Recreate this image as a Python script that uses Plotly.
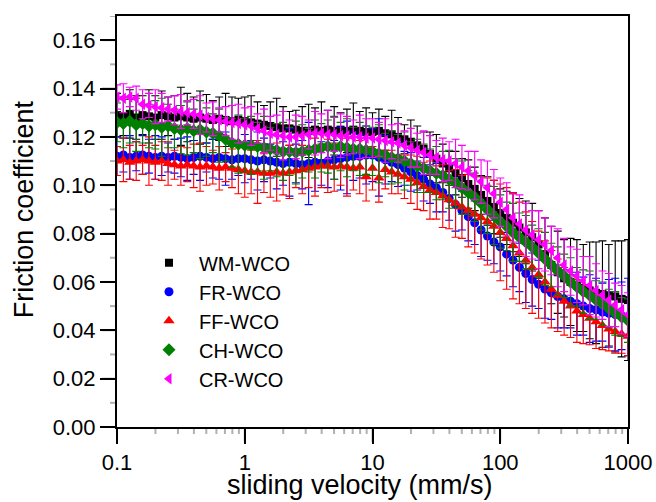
import plotly.graph_objects as go

velocity = [
    0.1, 0.1122, 0.1259, 0.1413, 0.1585, 0.1778, 0.1995, 0.2239, 0.2512, 0.2818,
    0.3162, 0.3548, 0.3981, 0.4467, 0.5012, 0.5623, 0.6310, 0.7079, 0.7943, 0.8913,
    1.0, 1.122, 1.259, 1.413, 1.585, 1.778, 1.995, 2.239, 2.512, 2.818,
    3.162, 3.548, 3.981, 4.467, 5.012, 5.623, 6.310, 7.079, 7.943, 8.913,
    10.0, 11.22, 12.59, 14.13, 15.85, 17.78, 19.95, 22.39, 25.12, 28.18,
    31.62, 35.48, 39.81, 44.67, 50.12, 56.23, 63.10, 70.79, 79.43, 89.13,
    100.0, 112.2, 125.9, 141.3, 158.5, 177.8, 199.5, 223.9, 251.2, 281.8,
    316.2, 354.8, 398.1, 446.7, 501.2, 562.3, 631.0, 707.9, 794.3, 891.3, 1000.0,
]

wm_wco = [
    .1290, .1285, .1295, .1280, .1290, .1285, .1280, .1290, .1285, .1280,
    .1285, .1280, .1275, .1280, .1275, .1270, .1275, .1270, .1265, .1270,
    .1265, .1260, .1255, .1250, .1245, .1240, .1235, .1235, .1230, .1225,
    .1225, .1230, .1225, .1230, .1225, .1230, .1225, .1230, .1225, .1220,
    .1220, .1225, .1215, .1210, .1200, .1190, .1180, .1165, .1150, .1130,
    .1110, .1090, .1070, .1050, .1030, .1005, .0985, .0960, .0935, .0910,
    .0885, .0865, .0845, .0825, .0805, .0785, .0755, .0715, .0670, .0640,
    .0615, .0600, .0585, .0575, .0565, .0555, .0550, .0545, .0540, .0530, .0525,
]
wm_err = [
    .009, .008, .010, .009, .008, .011, .009, .010, .008, .009,
    .012, .010, .009, .011, .010, .008, .009, .011, .010, .009,
    .010, .011, .009, .008, .010, .012, .009, .007, .008, .010,
    .011, .009, .012, .008, .010, .007, .009, .011, .008, .010,
    .008, .009, .007, .010, .008, .006, .009, .008, .007, .009,
    .010, .008, .007, .009, .008, .010, .009, .008, .010, .011,
    .010, .011, .012, .012, .013, .014, .014, .015, .016, .017,
    .016, .018, .019, .018, .020, .021, .022, .021, .023, .024, .025,
]

fr_wco = [
    .1120, .1125, .1115, .1120, .1125, .1120, .1115, .1120, .1115, .1120,
    .1115, .1110, .1115, .1120, .1115, .1110, .1115, .1110, .1105, .1110,
    .1110, .1105, .1100, .1105, .1100, .1095, .1090, .1095, .1090, .1085,
    .1090, .1095, .1090, .1100, .1105, .1110, .1115, .1120, .1120, .1125,
    .1125, .1115, .1105, .1095, .1085, .1070, .1055, .1040, .1025, .1005,
    .0990, .0970, .0945, .0920, .0895, .0870, .0845, .0815, .0790, .0765,
    .0745, .0715, .0690, .0660, .0635, .0610, .0590, .0570, .0555, .0540,
    .0530, .0520, .0510, .0500, .0490, .0485, .0475, .0470, .0465, .0460, .0455,
]
fr_err = [
    .008, .007, .009, .006, .008, .007, .009, .008, .006, .007,
    .008, .009, .007, .010, .006, .008, .009, .011, .008, .007,
    .010, .008, .012, .009, .007, .011, .009, .014, .008, .010,
    .017, .012, .009, .011, .008, .013, .015, .010, .009, .012,
    .011, .016, .010, .008, .009, .007, .008, .006, .009, .008,
    .010, .008, .009, .011, .008, .010, .009, .011, .010, .009,
    .010, .009, .011, .010, .012, .011, .010, .012, .011, .013,
    .012, .011, .013, .012, .014, .013, .012, .014, .015, .014, .016,
]

ff_wco = [
    .1100, .1105, .1095, .1100, .1105, .1100, .1095, .1100, .1090, .1085,
    .1080, .1085, .1080, .1075, .1080, .1075, .1070, .1075, .1070, .1065,
    .1060, .1055, .1055, .1050, .1050, .1055, .1050, .1055, .1060, .1065,
    .1070, .1075, .1080, .1080, .1075, .1080, .1075, .1070, .1075, .1035,
    .1070, .1030, .1065, .1055, .1045, .1035, .1025, .1010, .0995, .0980,
    .0970, .0955, .0940, .0925, .0910, .0895, .0880, .0865, .0850, .0830,
    .0805, .0780, .0750, .0720, .0690, .0660, .0630, .0600, .0570, .0545,
    .0520, .0500, .0480, .0465, .0450, .0435, .0420, .0405, .0395, .0385, .0375,
]
ff_err = [
    .006, .009, .007, .008, .006, .010, .007, .008, .009, .006,
    .008, .007, .009, .010, .008, .007, .009, .006, .008, .010,
    .011, .009, .013, .008, .010, .012, .009, .011, .007, .010,
    .008, .012, .009, .011, .010, .008, .012, .009, .011, .010,
    .009, .010, .008, .009, .008, .009, .010, .011, .010, .012,
    .011, .013, .012, .014, .013, .015, .016, .017, .018, .019,
    .020, .021, .022, .021, .020, .019, .018, .017, .016, .015,
    .014, .013, .013, .012, .011, .011, .010, .009, .009, .008, .008,
]

ch_wco = [
    .1260, .1255, .1265, .1250, .1255, .1245, .1250, .1240, .1245, .1235,
    .1230, .1235, .1225, .1230, .1220, .1215, .1205, .1190, .1175, .1170,
    .1165, .1165, .1160, .1155, .1150, .1145, .1140, .1140, .1135, .1140,
    .1145, .1150, .1155, .1160, .1155, .1160, .1155, .1150, .1150, .1145,
    .1140, .1130, .1125, .1115, .1110, .1100, .1090, .1080, .1070, .1060,
    .1050, .1040, .1025, .1010, .0990, .0970, .0950, .0925, .0900, .0875,
    .0850, .0830, .0805, .0785, .0765, .0745, .0720, .0695, .0670, .0645,
    .0625, .0600, .0580, .0560, .0545, .0525, .0510, .0490, .0470, .0455, .0440,
]
ch_err = [
    .008, .010, .009, .011, .008, .009, .010, .012, .009, .008,
    .010, .011, .009, .012, .010, .008, .011, .009, .010, .012,
    .011, .012, .010, .013, .009, .011, .012, .010, .013, .011,
    .009, .012, .010, .011, .013, .010, .012, .009, .011, .010,
    .010, .012, .009, .011, .010, .012, .009, .011, .010, .009,
    .011, .010, .012, .010, .011, .009, .010, .011, .010, .012,
    .011, .010, .012, .010, .011, .009, .010, .011, .009, .010,
    .009, .010, .008, .009, .010, .008, .009, .008, .009, .008, .009,
]

cr_wco = [
    .1365, .1360, .1365, .1360, .1335, .1330, .1325, .1320, .1315, .1310,
    .1305, .1300, .1295, .1290, .1280, .1275, .1270, .1265, .1260, .1255,
    .1250, .1245, .1235, .1225, .1215, .1210, .1205, .1200, .1200, .1205,
    .1210, .1215, .1215, .1210, .1210, .1205, .1205, .1200, .1200, .1195,
    .1195, .1190, .1185, .1180, .1175, .1165, .1155, .1145, .1135, .1125,
    .1115, .1105, .1100, .1090, .1075, .1060, .1040, .1015, .0990, .0965,
    .0930, .0900, .0865, .0840, .0815, .0795, .0775, .0755, .0730, .0700,
    .0670, .0645, .0625, .0605, .0585, .0565, .0545, .0525, .0505, .0485, .0465,
]
cr_err = [
    .005, .006, .004, .005, .006, .005, .007, .006, .005, .006,
    .007, .005, .006, .008, .006, .007, .005, .006, .007, .008,
    .007, .008, .006, .009, .007, .008, .010, .007, .009, .008,
    .006, .009, .008, .010, .007, .009, .008, .007, .009, .008,
    .008, .007, .009, .007, .008, .006, .008, .007, .009, .008,
    .007, .009, .008, .010, .009, .008, .010, .009, .011, .010,
    .010, .011, .010, .012, .011, .010, .012, .011, .010, .012,
    .011, .010, .011, .010, .012, .011, .010, .011, .009, .010, .009,
]

x_tick_vals = [0.1, 1, 10, 100, 1000]
x_tick_text = ["0.1", "1", "10", "100", "1000"]
x_minor_vals = [0.2, 0.3, 0.4, 0.5, 0.6, 0.7, 0.8, 0.9,
                2, 3, 4, 5, 6, 7, 8, 9,
                20, 30, 40, 50, 60, 70, 80, 90,
                200, 300, 400, 500, 600, 700, 800, 900]
y_tick_vals = [0.00, 0.02, 0.04, 0.06, 0.08, 0.10, 0.12, 0.14, 0.16]
y_minor_vals = [0.01, 0.03, 0.05, 0.07, 0.09, 0.11, 0.13, 0.15, 0.17]

series = [
    ("WM-WCO", wm_wco, wm_err, "#000000", "square", 8),
    ("FR-WCO", fr_wco, fr_err, "#0000FF", "circle", 9),
    ("FF-WCO", ff_wco, ff_err, "#FF0000", "triangle-up", 10),
    ("CH-WCO", ch_wco, ch_err, "#008000", "diamond", 10),
    ("CR-WCO", cr_wco, cr_err, "#FF00FF", "triangle-left", 10),
]

FONT = "Liberation Sans, Arial, sans-serif"
W, H = 656, 502
ML, MR, MT, MB = 117, 28, 16, 75
PLOT_W = W - ML - MR
PLOT_H = H - MT - MB
MAJOR_LEN, MINOR_LEN = 15, 7

fig = go.Figure()
for name, vals, errs, color, symbol, size in series:
    fig.add_trace(go.Scatter(
        x=velocity, y=vals, name=name, mode="markers",
        marker=dict(color=color, symbol=symbol, size=size, line=dict(width=0)),
        error_y=dict(type="data", array=errs, visible=True, color=color,
                     thickness=1.1, width=4),
    ))

fig.update_xaxes(
    type="log", range=[-1, 3],
    tickmode="array", tickvals=x_tick_vals, ticktext=x_tick_text,
    ticks="outside", ticklen=MAJOR_LEN, tickwidth=2, tickcolor="#000000",
    showline=True, linecolor="#000000", linewidth=2, mirror=True,
    showgrid=False, zeroline=False, automargin=False,
    tickfont=dict(family=FONT, size=22, color="#000000"),
)
fig.update_yaxes(
    range=[0, 0.17], tickmode="array", tickvals=y_tick_vals,
    tickformat=".2f",
    ticks="outside", ticklen=MAJOR_LEN, tickwidth=2, tickcolor="#000000",
    showline=True, linecolor="#000000", linewidth=2, mirror=True,
    showgrid=False, zeroline=False, automargin=False,
    tickfont=dict(family=FONT, size=22, color="#000000"),
)

# tick marks drawn explicitly as well (at the axis tick values, via the axes' own scales)
tick_line = dict(color="#000000", width=2)
for v, ln in [(v, MAJOR_LEN) for v in x_tick_vals] + [(v, MINOR_LEN) for v in x_minor_vals]:
    fig.add_shape(type="line", xref="x", yref="paper",
                  x0=v, x1=v, y0=0, y1=-ln / PLOT_H, line=tick_line, layer="above")
for v, ln in [(v, MAJOR_LEN) for v in y_tick_vals] + [(v, MINOR_LEN) for v in y_minor_vals]:
    fig.add_shape(type="line", xref="paper", yref="y",
                  x0=0, x1=-ln / PLOT_W, y0=v, y1=v, line=tick_line, layer="above")

# axis titles placed as annotations so they do not push the plot margins
fig.add_annotation(text="sliding velocity (mm/s)", xref="paper", yref="paper",
                   x=0.4755, y=-MB / PLOT_H, xanchor="center", yanchor="bottom",
                   height=30, valign="middle",
                   showarrow=False, font=dict(family=FONT, size=27, color="#000000"))
fig.add_annotation(text="Friction coefficient", xref="paper", yref="paper",
                   x=-0.182, y=0.53, xanchor="center", yanchor="middle",
                   textangle=-90, showarrow=False,
                   font=dict(family=FONT, size=27, color="#000000"))

fig.update_layout(
    template="simple_white",
    width=W, height=H,
    margin=dict(l=ML, r=MR, t=MT, b=MB),
    paper_bgcolor="white", plot_bgcolor="white",
    showlegend=True,
    legend=dict(x=0.043, y=0.447, xanchor="left", yanchor="top",
                bgcolor="rgba(0,0,0,0)", borderwidth=0,
                font=dict(family=FONT, size=20, color="#000000"),
                itemsizing="trace", itemwidth=50),
)

fig.write_html("out.html")
